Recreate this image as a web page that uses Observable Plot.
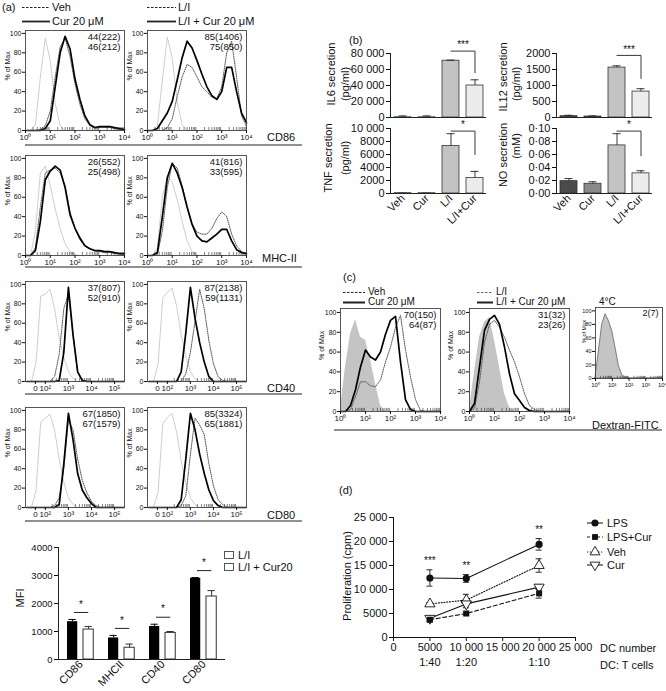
<!DOCTYPE html>
<html><head><meta charset="utf-8">
<script src="https://cdn.jsdelivr.net/npm/d3@7"></script>
<script src="https://cdn.jsdelivr.net/npm/@observablehq/plot@0.6"></script>
<style>
body{margin:0;background:#fff;}
#root{position:relative;width:666px;height:691px;overflow:hidden;background:#fff;font-family:"Liberation Sans",Arial,Helvetica,sans-serif;color:#111;}
.t{position:absolute;white-space:nowrap;line-height:1;}
#root svg{overflow:visible;}
</style></head><body><div id="root"></div>
<script>
// ================= DATA =================
// Panel (a) flow histograms (x = decades of fluorescence, y = % of max)
const logX = [0,0.2,0.4,0.6,0.8,1,1.2,1.4,1.6,1.8,2,2.2,2.4,2.6,2.8,3,3.2,3.4,3.6,3.8,4];
const logTicks = [0,1,2,3,4];
const logTickLabels = ["10⁰","10¹","10²","10³","10⁴"];
const biexX = [1.2,1.4,1.6,1.8,2,2.2,2.4,2.6,2.8,3,3.2,3.4,3.6,3.8,4,4.2,4.4,4.6,4.8,5,5.2,5.4];
const biexTicks = [1.57,2,3,4,5];
const biexTickLabels = ["0","10²","10³","10⁴","10⁵"];
const histYTicks = [0,20,40,60,80,100];

const cd86VehIso = [0,0,6,55,95,72,28,5,0,0,0,0,0,0,0,0,0,0,0,0,0];
const cd86VehDot = [0,0,0,1,5,20,55,86,95,76,48,27,12,5,3,3,3,3,2,1,0];
const cd86VehSol = [0,0,0,0,2,10,45,80,97,84,53,32,15,6,3,4,4,4,3,2,1];
const cd86LIIso  = [0,0,5,52,96,74,30,6,0,0,0,0,0,0,0,0,0,0,0,0,0];
const cd86LIDot  = [0,0,0,0,3,12,35,55,68,65,55,45,40,34,33,45,80,92,55,15,4];
const cd86LISol  = [0,0,2,10,18,30,52,75,92,85,72,58,45,36,32,40,65,65,40,18,8];

const mhcVehIso = [0,0,25,85,92,72,48,28,12,4,1,0,0,0,0,0,0,0,0,0,0];
const mhcVehDot = [0,0,8,50,85,88,90,85,72,45,28,16,10,7,5,4,3,3,2,2,1];
const mhcVehSol = [0,0,5,35,78,87,92,88,70,42,28,18,10,7,5,5,4,4,3,2,2];
const mhcLIIso  = [0,0,8,60,82,75,58,35,15,4,0,0,0,0,0,0,0,0,0,0,0];
const mhcLIDot  = [0,0,1,25,70,95,90,72,50,33,24,22,22,28,38,45,40,22,10,4,2];
const mhcLISol  = [0,0,3,40,80,95,85,70,50,32,20,15,14,18,22,27,27,15,6,3,2];

const cd40VehIso = [0,0,20,88,90,95,75,45,25,10,3,0,0,0,0,0,0,0,0,0,0,0];
const cd40VehDot = [0,0,0,0,0,0,5,28,75,90,48,10,2,0,0,0,0,0,0,0,0,0];
const cd40VehSol = [0,0,0,0,0,0,0,1,30,97,48,10,1,0,0,0,0,0,0,0,0,0];
const cd40LIIso  = [0,0,18,86,92,96,78,48,26,10,3,0,0,0,0,0,0,0,0,0,0,0];
const cd40LIDot  = [0,0,0,0,0,0,0,0,8,30,62,95,75,42,18,5,1,0,0,0,0,0];
const cd40LISol  = [0,0,0,0,0,0,0,10,50,97,65,40,20,5,0,0,0,0,0,0,0,0];

const cd80VehIso = [0,0,18,88,92,96,80,50,26,10,3,0,0,0,0,0,0,0,0,0,0,0];
const cd80VehDot = [0,0,0,0,0,0,2,10,40,90,80,50,28,15,6,2,0,0,0,0,0,0];
const cd80VehSol = [0,0,0,0,0,0,0,3,45,97,70,35,18,10,4,0,0,0,0,0,0,0];
const cd80LIIso  = [0,0,16,86,93,97,78,48,25,10,3,0,0,0,0,0,0,0,0,0,0,0];
const cd80LIDot  = [0,0,0,0,0,0,0,2,12,55,92,85,75,45,22,8,3,0,0,0,0,0];
const cd80LISol  = [0,0,0,0,0,0,0,8,50,97,80,55,35,18,7,2,0,0,0,0,0,0];

const histStats = {
  cd86Veh: ["44(222)","46(212)"], cd86LI: ["85(1406)","75(850)"],
  mhcVeh: ["26(552)","25(498)"], mhcLI: ["41(816)","33(595)"],
  cd40Veh: ["37(807)","52(910)"], cd40LI: ["87(2138)","59(1131)"],
  cd80Veh: ["67(1850)","67(1579)"], cd80LI: ["85(3324)","65(1881)"]
};

// Panel (a) MFI bars
const mfiCats = ["CD86","MHCII","CD40","CD80"];
const mfiLI = [1350,770,1180,2900];
const mfiLIErr = [80,90,80,25];
const mfiCur = [1070,420,950,2250];
const mfiCurErr = [110,130,50,210];
const mfiSig = ["*","*","*","*"];
const mfiTicks = [0,1000,2000,3000,4000];
const mfiTickLabels = ["0","1000","2000","3000","4000"];

// Panel (b) secretion bars
const bCats = ["Veh","Cur","L/I","L/I+Cur"];
const bColors = ["#4b4b4b","#8a8a8a","#c3c3c3","#ececec"];
const il6Mean = [200,200,71000,40000];
const il6Err = [1800,1800,700,7100];
const il12Mean = [40,30,1560,810];
const il12Err = [30,20,55,90];
const tnfMean = [40,40,7300,2400];
const tnfErr = [10,10,1900,1000];
const noMean = [0.019,0.015,0.074,0.031];
const noErr = [0.004,0.003,0.018,0.004];
const il6Ticks = [0,20000,40000,60000,80000];
const il6TickLabels = ["0","20 000","40 000","60 000","80 000"];
const il12Ticks = [0,500,1000,1500,2000];
const il12TickLabels = ["0","500","1000","1500","2000"];
const tnfTicks = [0,2000,4000,6000,8000,10000];
const tnfTickLabels = ["0","2000","4000","6000","8000","10 000"];
const noTicks = [0,0.02,0.04,0.06,0.08,0.10];
const noTickLabels = ["0·00","0·02","0·04","0·06","0·08","0·10"];
const il6Sig = {label:"***", top:83000, bottom:56000};
const il12Sig = {label:"***", top:1940, bottom:1220};
const tnfSig = {label:"*", top:9600, bottom:6000};
const noSig = {label:"*", top:0.096, bottom:0.058};

// Panel (c) dextran uptake histograms
const c1Fill = [3,45,78,93,75,72,52,28,6,0,0,0,0,0,0,0,0,0,0,0,0];
const c1Dot  = [0,0,2,15,30,30,26,25,32,50,65,85,97,62,35,12,1,0,0,0,0];
const c1Sol  = [0,0,6,22,45,62,55,52,60,78,92,96,50,12,2,0,0,0,0,0,0];
const c2Fill = [3,40,75,90,95,72,45,18,4,0,0,0,0,0,0,0,0,0,0,0,0];
const c2Dot  = [0,3,30,70,88,92,85,75,62,50,35,18,6,2,0,0,0,0,0,0,0];
const c2Sol  = [0,8,45,82,93,97,88,65,38,18,11,4,1,0,0,0,0,0,0,0,0];
const c3Fill = [2,40,80,95,85,70,45,18,5,1,0,0,0,0,0,0,0,0,0,0,0];
const cStats = {c1:["70(150)","64(87)"], c2:["31(32)","23(26)"], c3:["2(7)"]};

// Panel (d) proliferation
const dcNumber = [5000,10000,20000];
const dcRatio = ["1:40","1:20","1:10"];
const lpsMean = [12400,12300,19400];
const lpsErr = [1700,800,1200];
const lpsCurMean = [3700,5000,9200];
const lpsCurErr = [400,300,1000];
const vehMean = [7000,7800,15000];
const vehErr = [300,1200,1400];
const curMean = [4000,7000,10500];
const curErr = [400,800,500];
const sigD = ["***","**","**"];
const dTicks = [0,5000,10000,15000,20000,25000];
const dTickLabels = ["0","5000","10 000","15 000","20 000","25 000"];

// ================= DRAWING =================
const FONT = '"Liberation Sans", Arial, Helvetica, sans-serif';
const root = document.getElementById("root");
function place(node, left, top) {
  node.style.position = "absolute"; node.style.left = left + "px"; node.style.top = top + "px";
  node.style.overflow = "visible";
  root.appendChild(node);
}
function T(x, y, s, size = 11, anchor = "start", rotate = 0) {
  const d = document.createElement("div");
  d.className = "t"; d.textContent = s; d.style.fontSize = size + "px";
  d.style.left = x + "px"; d.style.top = y + "px";
  const tx = anchor === "start" ? "0" : anchor === "middle" ? "-50%" : "-100%";
  d.style.transform = `translate(${tx},-50%)` + (rotate ? ` rotate(${rotate}deg)` : "");
  root.appendChild(d);
}
const baseStyle = fs => ({fontSize: fs + "px", fontFamily: FONT, background: "transparent", color: "#111", overflow: "visible"});

const minorLog = d3.range(0, 4).flatMap(d => d3.range(2, 10).map(k => d + Math.log10(k)));
const minorBiex = d3.range(2, 5).flatMap(d => d3.range(2, 10).map(k => d + Math.log10(k)));

function hist(o) {
  const mt = 3, mr = 4, mb = 14;
  const {xs, dom, ticks, labels, minor, w, h, ml, yMax, fs, xfs, tfs, ylDx} = o;
  const row = a => xs.map((x, i) => ({x, y: a[i]}));
  const marks = [];
  if (o.fill) marks.push(Plot.areaY(row(o.fill), {x: "x", y: "y", fill: "#c4c4c4", stroke: o.fillStroke || "none", strokeWidth: 0.7}));
  if (o.iso) marks.push(Plot.line(row(o.iso), {x: "x", y: "y", stroke: "#c8c8c8", strokeWidth: 0.9}));
  if (o.dot) marks.push(Plot.line(row(o.dot), {x: "x", y: "y", stroke: "#555", strokeWidth: 1, strokeDasharray: "1,1.2"}));
  if (o.sol) marks.push(Plot.line(row(o.sol), {x: "x", y: "y", stroke: "#000", strokeWidth: 1.7}));
  if (minor) marks.push(Plot.ruleX(minor, {y1: 0, y2: yMax * 0.03, stroke: "#333", strokeWidth: 0.6}));
  marks.push(Plot.frame({stroke: "#444", strokeWidth: 0.9}));
  if (o.txt) marks.push(Plot.text([o.txt.join("\n")], {frameAnchor: "top-right", dx: -4, dy: 2, lineAnchor: "top", textAnchor: "end", fontSize: tfs, lineHeight: 1.08}));
  marks.push(Plot.text(["% of Max"], {frameAnchor: "left", dx: ylDx, rotate: -90, fontSize: fs}));
  marks.push(Plot.axisX({ticks, tickFormat: d => labels[ticks.indexOf(d)], tickSize: 3, tickPadding: 1, fontSize: xfs, label: null}));
  marks.push(Plot.axisY({ticks: histYTicks, tickSize: 3, tickPadding: 1, fontSize: fs, label: null}));
  const svg = Plot.plot({
    width: ml + w + mr, height: mt + h + mb,
    marginLeft: ml, marginRight: mr, marginTop: mt, marginBottom: mb,
    style: baseStyle(fs),
    x: {domain: dom, axis: null},
    y: {domain: [0, yMax], axis: null},
    marks
  });
  place(svg, o.fx - ml, o.fy - mt);
}

const logCfg = {xs: logX, dom: [0, 4], ticks: logTicks, labels: logTickLabels, minor: minorLog};
const biexCfg = {xs: biexX, dom: [1.14, 5.43], ticks: biexTicks, labels: biexTickLabels, minor: minorBiex};
const aCfg = {w: 99, h: 100, ml: 25, yMax: 103, fs: 7, xfs: 8, tfs: 9.5, ylDx: -18};

hist({...logCfg, ...aCfg, fx: 25, fy: 30, iso: cd86VehIso, dot: cd86VehDot, sol: cd86VehSol, txt: histStats.cd86Veh});
hist({...logCfg, ...aCfg, fx: 147, fy: 30, iso: cd86LIIso, dot: cd86LIDot, sol: cd86LISol, txt: histStats.cd86LI});
hist({...logCfg, ...aCfg, fx: 25, fy: 155, iso: mhcVehIso, dot: mhcVehDot, sol: mhcVehSol, txt: histStats.mhcVeh});
hist({...logCfg, ...aCfg, fx: 147, fy: 155, iso: mhcLIIso, dot: mhcLIDot, sol: mhcLISol, txt: histStats.mhcLI});
hist({...biexCfg, ...aCfg, fx: 25, fy: 281, iso: cd40VehIso, dot: cd40VehDot, sol: cd40VehSol, txt: histStats.cd40Veh});
hist({...biexCfg, ...aCfg, fx: 147, fy: 281, iso: cd40LIIso, dot: cd40LIDot, sol: cd40LISol, txt: histStats.cd40LI});
hist({...biexCfg, ...aCfg, fx: 25, fy: 407, iso: cd80VehIso, dot: cd80VehDot, sol: cd80VehSol, txt: histStats.cd80Veh});
hist({...biexCfg, ...aCfg, fx: 147, fy: 407, iso: cd80LIIso, dot: cd80LIDot, sol: cd80LISol, txt: histStats.cd80LI});

// panel (c)
const cCfg = {w: 100, h: 103, ml: 25, yMax: 104, fs: 7, xfs: 8, tfs: 9.5, ylDx: -19};
hist({...logCfg, ...cCfg, fx: 340, fy: 308, fill: c1Fill, dot: c1Dot, sol: c1Sol, txt: cStats.c1});
hist({...logCfg, ...cCfg, fx: 469, fy: 308, fill: c2Fill, dot: c2Dot, sol: c2Sol, txt: cStats.c2});
hist({...logCfg, w: 67, h: 71, ml: 16, yMax: 105, fs: 5.5, xfs: 6, tfs: 9, ylDx: -11, fx: 595, fy: 307, fill: c3Fill, fillStroke: "#555", txt: cStats.c3});

// MFI chart
{
  const rows = mfiCats.map((c, i) => ({
    cat: c, a: mfiLI[i], ahi: mfiLI[i] + mfiLIErr[i], b: mfiCur[i], bhi: mfiCur[i] + mfiCurErr[i],
    sigY: Math.max(mfiLI[i] + mfiLIErr[i], mfiCur[i] + mfiCurErr[i]) + 250, sig: mfiSig[i]
  }));
  const ml = 58, mt = 10, mr = 4, mb = 32;
  const svg = Plot.plot({
    width: ml + 167 + mr, height: mt + 112 + mb, marginLeft: ml, marginTop: mt, marginRight: mr, marginBottom: mb,
    style: baseStyle(11),
    x: {domain: mfiCats, padding: 0, axis: null},
    y: {domain: [0, 4000], axis: null},
    marks: [
      Plot.barY(rows, {x: "cat", y: "a", fill: "#000", insetLeft: 7, insetRight: 23.75}),
      Plot.barY(rows, {x: "cat", y: "b", fill: "#fff", stroke: "#333", strokeWidth: 1, insetLeft: 23, insetRight: 7.75}),
      Plot.ruleX(rows, {x: "cat", y1: "a", y2: "ahi", dx: -8.4, stroke: "#000"}),
      Plot.tickY(rows, {x: "cat", y: "ahi", insetLeft: 8.5, insetRight: 25.25, stroke: "#000"}),
      Plot.ruleX(rows, {x: "cat", y1: "b", y2: "bhi", dx: 7.6, stroke: "#333"}),
      Plot.tickY(rows, {x: "cat", y: "bhi", insetLeft: 24.5, insetRight: 9.25, stroke: "#333"}),
      Plot.tickY(rows, {x: "cat", y: "sigY", insetLeft: 14, insetRight: 12.75, stroke: "#222"}),
      Plot.text(rows, {x: "cat", y: "sigY", text: "sig", dy: -8, fontSize: 10}),
      Plot.ruleY([0], {stroke: "#222"}),
      Plot.frame({anchor: "left", stroke: "#222"}),
      Plot.axisY({ticks: mfiTicks, tickFormat: d => mfiTickLabels[mfiTicks.indexOf(d)], tickSize: 4, tickPadding: 2, fontSize: 9.5, label: null}),
      Plot.axisX({tickSize: 0, tickRotate: -45, tickPadding: 3, fontSize: 11, label: null})
    ]
  });
  place(svg, 58 - ml, 547 - mt);
}

// panel (b) bar charts
function barChart({mean, err, ticks, labels, yMax, sig, axisX, topY, plotH, showX}) {
  const data = bCats.map((c, i) => ({cat: c, v: mean[i], hi: mean[i] + err[i], color: bColors[i]}));
  const ml = 68, mt = 8, mr = 6, mb = showX ? 34 : 3;
  const brk = [{x: "L/I", y: sig.top}, {x: "L/I+Cur", y: sig.top}, {x: "L/I+Cur", y: sig.bottom}];
  const svg = Plot.plot({
    width: ml + 96 + mr, height: mt + plotH + mb, marginLeft: ml, marginTop: mt, marginRight: mr, marginBottom: mb,
    style: baseStyle(11),
    color: {type: "identity"},
    x: {domain: bCats, paddingInner: 0.3, paddingOuter: 0.1, axis: showX ? "bottom" : null, tickSize: 0, tickRotate: -45, tickPadding: 3, label: null},
    y: {domain: [0, yMax], ticks, tickFormat: d => labels[ticks.indexOf(d)], tickSize: 4, tickPadding: 2, label: null},
    marks: [
      Plot.barY(data, {x: "cat", y: "v", fill: "color", stroke: "#333", strokeWidth: 0.8}),
      Plot.ruleX(data, {x: "cat", y1: "v", y2: "hi", stroke: "#222", strokeWidth: 0.9}),
      Plot.tickY(data, {x: "cat", y: "hi", insetLeft: 4.5, insetRight: 4.5, stroke: "#222", strokeWidth: 0.9}),
      Plot.ruleY([0], {stroke: "#222"}),
      Plot.frame({anchor: "left", stroke: "#222"}),
      Plot.line(brk, {x: "x", y: "y", stroke: "#222", strokeWidth: 0.9}),
      Plot.text([sig], {x: () => "L/I+Cur", y: "top", text: "label", dx: -12, dy: -6, fontSize: 10})
    ]
  });
  place(svg, axisX - ml, topY - mt);
}
barChart({mean: il6Mean, err: il6Err, ticks: il6Ticks, labels: il6TickLabels, yMax: 80000, sig: il6Sig, axisX: 390, topY: 53, plotH: 64, showX: false});
barChart({mean: il12Mean, err: il12Err, ticks: il12Ticks, labels: il12TickLabels, yMax: 2000, sig: il12Sig, axisX: 556, topY: 53, plotH: 64, showX: false});
barChart({mean: tnfMean, err: tnfErr, ticks: tnfTicks, labels: tnfTickLabels, yMax: 10000, sig: tnfSig, axisX: 390, topY: 128, plotH: 65, showX: true});
barChart({mean: noMean, err: noErr, ticks: noTicks, labels: noTickLabels, yMax: 0.10, sig: noSig, axisX: 556, topY: 128, plotH: 65, showX: true});

// panel (d)
const triDown = {draw(ctx, size) {
  const y = -Math.sqrt(size / (Math.sqrt(3) * 3));
  ctx.moveTo(0, -y * 2); ctx.lineTo(-Math.sqrt(3) * y, y); ctx.lineTo(Math.sqrt(3) * y, y); ctx.closePath();
}};
{
  const series = (m, e) => dcNumber.map((x, i) => ({x, y: m[i], lo: m[i] - e[i], hi: m[i] + e[i]}));
  const sL = series(lpsMean, lpsErr), sLC = series(lpsCurMean, lpsCurErr), sV = series(vehMean, vehErr), sC = series(curMean, curErr);
  const errs = s => [
    Plot.ruleX(s, {x: "x", y1: "lo", y2: "hi", stroke: "#111", strokeWidth: 0.9}),
    Plot.ruleY(s, {y: "hi", x1: "x", x2: "x", insetLeft: -3, insetRight: -3, stroke: "#111", strokeWidth: 0.9}),
    Plot.ruleY(s, {y: "lo", x1: "x", x2: "x", insetLeft: -3, insetRight: -3, stroke: "#111", strokeWidth: 0.9})
  ];
  const ml = 71, mt = 12, mr = 6, mb = 36;
  const fmt = d => dTickLabels[dTicks.indexOf(d)];
  const svg = Plot.plot({
    width: ml + 182 + mr, height: mt + 120 + mb, marginLeft: ml, marginTop: mt, marginRight: mr, marginBottom: mb,
    style: baseStyle(11),
    x: {domain: [0, 25000], ticks: dTicks, tickFormat: fmt, tickSize: 4, tickPadding: 2, label: null},
    y: {domain: [0, 25000], ticks: dTicks, tickFormat: fmt, tickSize: 4, tickPadding: 2, label: null},
    marks: [
      Plot.ruleY([0], {stroke: "#111"}),
      Plot.ruleX([0], {stroke: "#111"}),
      Plot.line(sL, {x: "x", y: "y", stroke: "#111", strokeWidth: 1.1}),
      Plot.line(sLC, {x: "x", y: "y", stroke: "#111", strokeWidth: 1.1, strokeDasharray: "4,2.5"}),
      Plot.line(sV, {x: "x", y: "y", stroke: "#111", strokeWidth: 1.1, strokeDasharray: "1.2,1.6"}),
      Plot.line(sC, {x: "x", y: "y", stroke: "#111", strokeWidth: 1.1}),
      ...errs(sL), ...errs(sLC), ...errs(sV), ...errs(sC),
      Plot.dot(sV, {x: "x", y: "y", r: 3.8, symbol: "triangle", fill: "#fff", stroke: "#111", strokeWidth: 0.9}),
      Plot.dot(sC, {x: "x", y: "y", r: 3.8, symbol: triDown, fill: "#fff", stroke: "#111", strokeWidth: 0.9}),
      Plot.dot(sLC, {x: "x", y: "y", r: 3.4, symbol: "square", fill: "#111"}),
      Plot.dot(sL, {x: "x", y: "y", r: 3.6, symbol: "circle", fill: "#111"}),
      Plot.text(sL, {x: "x", y: "hi", text: (d, i) => sigD[i], dy: -9, fontSize: 10}),
      Plot.text(dcNumber, {x: d => d, text: (d, i) => dcRatio[i], frameAnchor: "bottom", dy: 28, fontSize: 11})
    ]
  });
  place(svg, 393 - ml, 517 - mt);
}

// ================= TEXT & DECORATIONS =================
T(2, 7, "(a)");
T(52, 7, "Veh"); T(52, 21, "Cur 20 μM");
T(178, 7, "L/I"); T(178, 21, "L/I + Cur 20 μM");
T(267, 137, "CD86"); T(262, 258, "MHC-II"); T(267, 388, "CD40"); T(267, 515, "CD80");
T(20, 598, "MFI", 11, "middle", -90);
T(238, 555, "L/I"); T(238, 567, "L/I + Cur20");

T(349, 40, "(b)");
T(331, 74, "IL6 secretion", 11, "middle", -90); T(345, 84, "(pg/ml)", 11, "middle", -90);
T(503, 77, "IL12 secretion", 11, "middle", -90); T(516, 84, "(pg/ml)", 11, "middle", -90);
T(328, 158, "TNF secretion", 11, "middle", -90); T(345, 158, "(pg/ml)", 11, "middle", -90);
T(503, 155, "NO secretion", 11, "middle", -90); T(516, 146, "(mM)", 11, "middle", -90);

T(343, 277, "(c)");
T(368, 291.5, "Veh", 10); T(368, 301.5, "Cur 20 μM", 10);
T(496, 291.5, "L/I", 10); T(496, 301.5, "L/I + Cur 20 μM", 10);
T(599, 301.5, "4°C", 10);
T(592, 425, "Dextran-FITC");

T(339, 490, "(d)");
T(347, 576, "Proliferation (cpm)", 11, "middle", -90);
T(600, 648, "DC number"); T(600, 665, "DC: T cells");
T(607, 523, "LPS"); T(607, 537, "LPS+Cur"); T(607, 552, "Veh"); T(607, 565, "Cur");

const NS = "http://www.w3.org/2000/svg";
const ov = document.createElementNS(NS, "svg");
ov.setAttribute("width", 666); ov.setAttribute("height", 691);
ov.style.position = "absolute"; ov.style.left = "0"; ov.style.top = "0"; ov.style.pointerEvents = "none";
function el(tag, attrs) { const e = document.createElementNS(NS, tag); for (const k in attrs) e.setAttribute(k, attrs[k]); ov.appendChild(e); return e; }
function ln(x1, y1, x2, y2, w = 1, dash = null, stroke = "#222") {
  const a = {x1, y1, x2, y2, stroke, "stroke-width": w}; if (dash) a["stroke-dasharray"] = dash; el("line", a);
}
// (a) legend
ln(22, 7.5, 50, 7.5, 1, "2.5,1.5"); ln(22, 21.5, 50, 21.5, 1.8);
ln(147, 7.5, 176, 7.5, 1, "2.5,1.5"); ln(147, 21.5, 176, 21.5, 1.8);
// underlines
ln(25, 145, 302, 145, 1.2); ln(25, 267, 302, 267, 1.2); ln(25, 394, 302, 394, 1.2); ln(25, 521, 302, 521, 1.2);
ln(334, 430, 662, 430, 1.2);
// MFI legend
el("rect", {x: 224.5, y: 551.5, width: 9, height: 7, fill: "#fff", stroke: "#444", "stroke-width": 0.9});
el("rect", {x: 224.5, y: 563.5, width: 9, height: 7, fill: "#fff", stroke: "#444", "stroke-width": 0.9});
// (c) legend
ln(343, 292.5, 365, 292.5, 1, "2.5,1.5"); ln(343, 302.5, 365, 302.5, 2);
ln(477, 292.5, 493, 292.5, 1, "2.5,1.5", "#666"); ln(477, 302.5, 493, 302.5, 2);
// (d) legend
ln(587, 523, 603, 523, 1.1); el("path", {d: d3.symbol(d3.symbolCircle, 40)(), transform: "translate(595,523)", fill: "#111"});
ln(587, 537, 603, 537, 1.1, "3,2"); el("path", {d: d3.symbol(d3.symbolSquare, 34)(), transform: "translate(595,537)", fill: "#111"});
ln(587, 552, 603, 552, 1.1, "1.2,1.6"); el("path", {d: d3.symbol(d3.symbolTriangle, 42)(), transform: "translate(595,552)", fill: "#fff", stroke: "#111", "stroke-width": 0.9});
ln(587, 565, 603, 565, 1.1); el("path", {d: d3.symbol(triDown, 42)(), transform: "translate(595,565)", fill: "#fff", stroke: "#111", "stroke-width": 0.9});
root.appendChild(ov);
</script></body></html>
